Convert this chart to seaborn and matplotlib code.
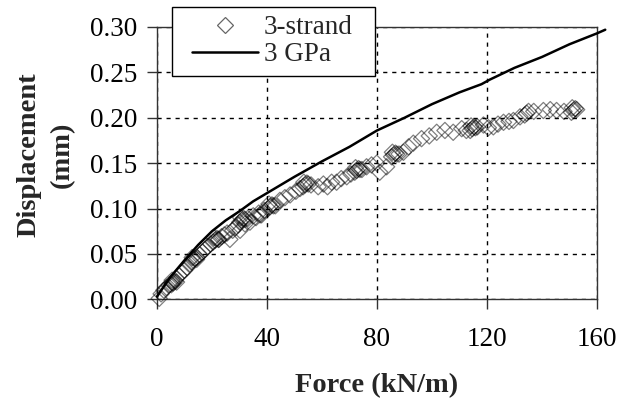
import numpy as np
import pandas as pd
import matplotlib
matplotlib.use("Agg")
import matplotlib.pyplot as plt
import seaborn as sns
from matplotlib.lines import Line2D
from matplotlib.legend_handler import HandlerLine2D

# ---- data ----
strand_force = [0.8, 1.5, 2.5, 3.5, 4.5, 5.5,
                5.9, 6.6, 5.2, 7.1, 5.5,
                7.0, 8.0, 9.0, 10.0, 11.0, 12.0,
                13.2, 13.9, 12.5, 14.4, 12.8,
                14.5, 15.5, 16.5, 17.5, 18.5, 19.5,
                21.1, 21.8, 20.4, 22.3, 20.7,
                22.5, 23.5, 24.5, 25.5, 26.5, 27.5, 28.5, 29.5, 30.2,
                30.8, 31.5, 30.1, 32.0, 30.4,
                32.0, 33.0, 33.8, 35.0, 36.0, 37.0, 37.5, 38.0, 39.0,
                41.1, 41.8, 40.4, 42.3, 40.7,
                43.0, 44.7, 46.5, 48.4, 50.5, 52.0,
                53.8, 54.5, 53.1, 55.0, 53.4,
                56.0, 58.6, 60.5, 62.0, 63.5, 65.3, 67.0, 69.0, 70.5,
                72.6, 73.3, 71.9, 73.8, 72.2,
                74.5, 76.2, 78.0, 79.9, 81.0, 83.5,
                86.0, 86.7, 85.3, 87.2, 85.6,
                88.0, 89.6, 91.5, 93.2, 96.2, 99.0, 101.7, 104.7, 107.7, 110.8, 112.5,
                114.6, 115.3, 113.9, 115.8, 114.2,
                116.5, 118.7, 120.5, 122.3, 124.0, 126.0, 128.0, 129.6, 132.0,
                134.4, 135.1, 133.7,
                137.0, 140.5, 143.0, 145.3, 148.0,
                151.4, 152.1, 150.7, 152.6, 151.0]
strand_disp = [0.001, 0.006, 0.010, 0.013, 0.016, 0.018,
               0.018, 0.020, 0.016, 0.019, 0.021,
               0.023, 0.026, 0.029, 0.032, 0.035, 0.039,
               0.043, 0.045, 0.041, 0.044, 0.046,
               0.046, 0.049, 0.052, 0.055, 0.058, 0.061,
               0.065, 0.067, 0.063, 0.066, 0.068,
               0.066, 0.069, 0.071, 0.073, 0.066, 0.076, 0.079, 0.082, 0.076,
               0.087, 0.089, 0.085, 0.088, 0.090,
               0.083, 0.089, 0.085, 0.092, 0.090, 0.095, 0.093, 0.093, 0.098,
               0.102, 0.104, 0.100, 0.103, 0.105,
               0.103, 0.109, 0.112, 0.115, 0.119, 0.122,
               0.126, 0.128, 0.124, 0.127, 0.129,
               0.126, 0.124, 0.127, 0.124, 0.129, 0.129, 0.133, 0.135, 0.138,
               0.142, 0.144, 0.140, 0.143, 0.145,
               0.143, 0.146, 0.148, 0.150, 0.140, 0.146,
               0.159, 0.161, 0.157, 0.160, 0.162,
               0.160, 0.162, 0.168, 0.172, 0.177, 0.180, 0.184, 0.186, 0.184, 0.188, 0.186,
               0.188, 0.190, 0.186, 0.189, 0.191,
               0.190, 0.192, 0.189, 0.190, 0.193, 0.195, 0.196, 0.197, 0.201,
               0.205, 0.207, 0.203,
               0.207, 0.208, 0.209, 0.208, 0.207,
               0.208, 0.210, 0.206, 0.209, 0.211]

gpa_force = [0, 2, 5, 10, 15, 20, 25, 30, 35, 40, 50, 60, 70, 80, 90, 100,
             110, 118, 121, 130, 140, 150, 160, 163]
gpa_disp = [0.003, 0.012, 0.025, 0.043, 0.060, 0.075, 0.087, 0.097, 0.108, 0.117,
            0.135, 0.152, 0.168, 0.186, 0.200, 0.215, 0.228, 0.237, 0.242, 0.255,
            0.267, 0.281, 0.293, 0.297]

x_ticks = [0, 40, 80, 120, 160]
y_ticks = [0.00, 0.05, 0.10, 0.15, 0.20, 0.25, 0.30]
x_label = "Force (kN/m)"
y_label = "Displacement\n(mm)"
legend_labels = ["3-strand", "3 GPa"]

# ---- style ----
sns.set_style("white")
plt.rcParams['font.family'] = ['Liberation Serif', 'DejaVu Serif']

fig = plt.figure(figsize=(6.17, 4.03), dpi=100)
ax = fig.add_axes([157/617, 1-299.3/403, 440/617, 272.3/403])

df_s = pd.DataFrame({"force": strand_force, "disp": strand_disp})
df_g = pd.DataFrame({"force": gpa_force, "disp": gpa_disp})

sns.scatterplot(data=df_s, x="force", y="disp", marker="D", s=68, ax=ax,
                color="black", legend=False, zorder=3)
coll = ax.collections[0]
coll.set_facecolor("none")
coll.set_edgecolor((0, 0, 0, 0.5))
coll.set_linewidth(0.9)
coll.set_clip_on(False)

sns.lineplot(data=df_g, x="force", y="disp", color="black", linewidth=1.8,
             ax=ax, legend=False, zorder=4, estimator=None, sort=False)
for ln in ax.lines:
    ln.set_clip_on(False)

ax.set_xlim(0, 160)
ax.set_ylim(0, 0.30)
ax.set_xticks(x_ticks)
ax.set_yticks(y_ticks)
ax.set_xticklabels([str(v) for v in x_ticks])
ax.set_yticklabels([f"{v:.2f}" for v in y_ticks])

ax.grid(True, color="black", linestyle=(0, (3, 3.5)), linewidth=1.0)
for sp in ax.spines.values():
    sp.set_visible(True)
    sp.set_color("#333333")
    sp.set_linewidth(1.0)

ax.tick_params(axis="both", direction="out", length=7, width=1.0,
               color="#333333", labelsize=19.5, labelcolor="black")
ax.tick_params(axis="x", pad=13)
ax.tick_params(axis="y", pad=7)
ax.tick_params(left=True, bottom=True)

ax.set_xlabel(x_label, fontsize=20.5, fontweight="bold")
ax.set_ylabel(y_label, fontsize=20.5, fontweight="bold", va="center",
              linespacing=1.45, multialignment="center")
ax.xaxis.set_label_coords(0.5, -0.272)
ax.yaxis.set_label_coords(-0.253, 0.53)

handles = [Line2D([], [], marker="D", linestyle="none", markersize=8.2,
                  markerfacecolor="none", markeredgecolor="#666666",
                  markeredgewidth=0.9),
           Line2D([], [], color="black", linewidth=1.8)]
hmap = {h: HandlerLine2D(xpad=0.44) for h in handles}
leg = ax.legend(handles, legend_labels, loc="upper left", mode="expand",
                bbox_to_anchor=(0.034, 0.5, 0.461, 0.573), borderaxespad=0,
                fontsize=19.5, frameon=True, fancybox=False, framealpha=1,
                edgecolor="black", borderpad=0.3, labelspacing=0.08,
                handlelength=2.88, handletextpad=0.2, handler_map=hmap)
leg.get_frame().set_linewidth(1.0)
leg.set_zorder(10)

fig.savefig("out.png", dpi=100)
